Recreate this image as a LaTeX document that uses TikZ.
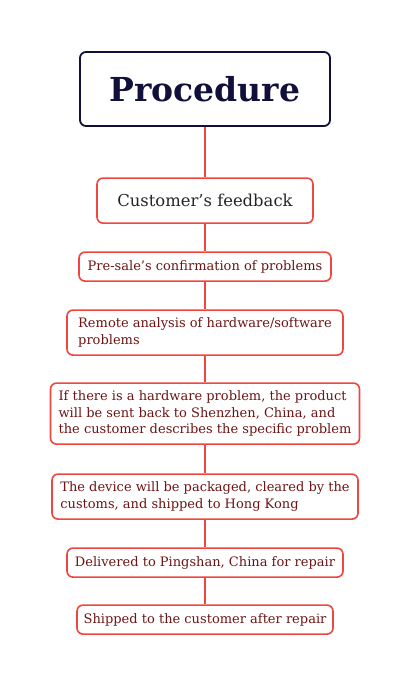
\documentclass[tikz,border=0pt]{standalone}
\usepackage{fontspec}
\setmainfont{DejaVu Serif}
\usepackage{tikz}
\usepackage{xcolor}
\usetikzlibrary{positioning}
\definecolor{Proc_Navy}{HTML}{10103A}
\definecolor{Proc_Red}{HTML}{F0463E}
\definecolor{Proc_Text}{HTML}{6E1414}

\begin{document}
\begin{tikzpicture}[
  x=1pt, y=1pt, node distance=27.4pt,
  every node/.style={font=\fontsize{13}{16.5}\selectfont},
  root/.style={draw=Proc_Navy, line width=1.8pt, rounded corners=6pt,
    text=Proc_Navy, minimum width=250pt, minimum height=74pt,
    font=\fontsize{33}{38}\selectfont\bfseries},
  stepbox/.style={draw=Proc_Red, line width=1.6pt, rounded corners=6pt,
    fill=white, text=Proc_Text, minimum height=29pt, inner xsep=6pt,
    inner ysep=2pt, align=left},
  link/.style={Proc_Red, line width=1.6pt}
]
  \useasboundingbox (0,0) rectangle (410,-676);

  % Title
  \node[root] (proc) at (205,-89) {Procedure};

  % Steps
  \node[stepbox, below=50.4pt of proc, minimum width=216pt, minimum height=45pt,
    text=black!85, font=\fontsize{16.4}{19}\selectfont] (feed) {Customer's feedback};
  \node[stepbox, below=of feed, minimum width=252pt] (presale)
    {Pre-sale's confirmation of problems};
  \node[stepbox, below=of presale, minimum width=276pt, minimum height=45pt] (remote)
    {Remote analysis of hardware/software\\problems};
  \node[stepbox, below=26.4pt of remote, minimum width=309pt, minimum height=61pt] (hw)
    {If there is a hardware problem, the product\\will be sent back to Shenzhen, China, and\\the customer describes the specific problem};
  \node[stepbox, below=28.4pt of hw, minimum width=306pt, minimum height=45pt] (pack)
    {The device will be packaged, cleared by the\\customs, and shipped to Hong Kong};
  \node[stepbox, below=of pack, minimum width=276pt] (repair)
    {Delivered to Pingshan, China for repair};
  \node[stepbox, below=26.4pt of repair, minimum width=256pt] (ship)
    {Shipped to the customer after repair};

  % Links
  \draw[link] (proc) -- (feed);
  \draw[link] (feed) -- (presale);
  \draw[link] (presale) -- (remote);
  \draw[link] (remote) -- (hw);
  \draw[link] (hw) -- (pack);
  \draw[link] (pack) -- (repair);
  \draw[link] (repair) -- (ship);
\end{tikzpicture}
\end{document}
